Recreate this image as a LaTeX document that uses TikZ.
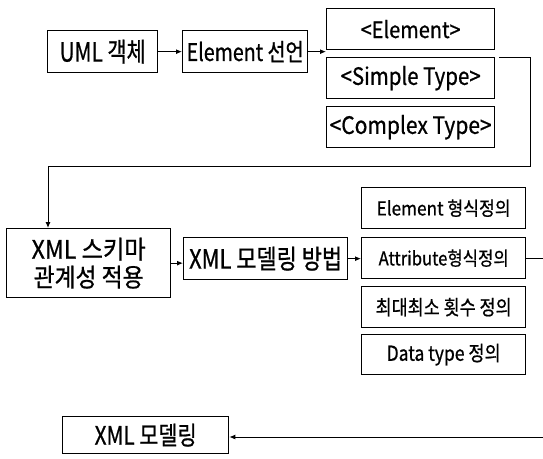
\documentclass[tikz,border=0pt]{standalone}
\usepackage{fontspec}
\usepackage{graphicx}
\setmainfont{Noto Sans CJK KR}[FakeBold=0.8]
\usetikzlibrary{arrows.meta,calc}
\newcommand{\rtxt}[3]{\resizebox{#1pt}{#2pt}{#3}}
\begin{document}
\begin{tikzpicture}[x=1pt,y=1pt,
  box/.style={draw, line width=1.3pt, inner sep=0pt, anchor=north west, align=center},
  conn/.style={line width=1pt},
  arr/.style={conn, -{Latex[length=6pt,width=5pt]}}]
\useasboundingbox (0,0) rectangle (543,-458);
\fill[white] (0,0) rectangle (543,-458);
% top row
\node[box, minimum width=110pt, minimum height=42pt] (uml) at (47,-30) {\rtxt{86}{22}{UML 객체}};
\node[box, minimum width=125pt, minimum height=42pt] (elem) at (182,-30) {\rtxt{117}{20}{Element 선언}};
\node[box, minimum width=168pt, minimum height=41pt] (eltag) at (326,-8) {\rtxt{100}{18}{<Element>}};
\node[box, minimum width=168pt, minimum height=41pt] (simple) at (326,-57) {\rtxt{140}{19}{<Simple Type>}};
\node[box, minimum width=168pt, minimum height=41pt] (complex) at (326,-106) {\rtxt{162}{19}{<Complex Type>}};
% middle row
\node[box, minimum width=164pt, minimum height=69pt] (schema) at (6,-228) {\rtxt{114}{21}{XML 스키마}\\[4pt]\rtxt{110}{21}{관계성 적용}};
\node[box, minimum width=164pt, minimum height=42pt] (xmm) at (183,-237) {\rtxt{153}{22}{XML 모델링 방법}};
\node[box, minimum width=164pt, minimum height=41pt] (eform) at (361,-187) {\rtxt{134}{16}{Element 형식정의}};
\node[box, minimum width=164pt, minimum height=41pt] (attr) at (361,-237) {\rtxt{130}{16}{Attribute형식정의}};
\node[box, minimum width=164pt, minimum height=41pt] (minmax) at (361,-286) {\rtxt{136}{17}{최대최소 횟수 정의}};
\node[box, minimum width=164pt, minimum height=40pt] (dtype) at (361,-334) {\rtxt{114}{17}{Data type 정의}};
% bottom
\node[box, minimum width=166pt, minimum height=37pt] (xmlmod) at (62,-416) {\rtxt{102}{21}{XML 모델링}};
% coordinates
\coordinate (tA) at (530,-57);
\coordinate (tB) at (530,-166);
\coordinate (tC) at (48,-166);
\coordinate (rA) at (549,-257);
\coordinate (rB) at (549,-437);
% connectors
\draw[arr] (uml.east) -- (elem.west);
\draw[arr] (elem.east) -- (elem.east -| eltag.west);
\draw[arr] ([xshift=4pt]simple.north east) -- (tA) -- (tB) -- (tC) -- (tC |- schema.north);
\draw[arr] (schema.east) -- (schema.east -| xmm.west);
\draw[arr] (xmm.east) -- (xmm.east -| attr.west);
\draw[arr] (attr.east) -- (attr.east -| rA) -- (rB) -- (rB -| xmlmod.east);
\end{tikzpicture}
\end{document}
